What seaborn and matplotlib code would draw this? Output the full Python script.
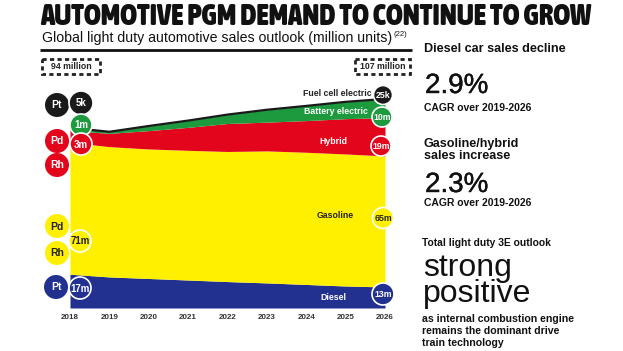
import numpy as np
import matplotlib.pyplot as plt
import matplotlib.patheffects as pe
import seaborn as sns
from matplotlib import font_manager
from matplotlib.patches import Circle, Rectangle

# Vendas globais de veículos leves (milhões de unidades)
years = [2018, 2019, 2020, 2021, 2022, 2023, 2024, 2025, 2026]
diesel = [17.5, 16.1, 15.3, 14.5, 13.7, 13.0, 12.2, 11.4, 10.9]
gasoline = [68.4, 67.5, 67.1, 67.2, 67.4, 68.4, 68.5, 68.4, 67.9]
hybrid = [6.0, 6.9, 9.5, 11.9, 14.5, 14.9, 16.4, 18.3, 19.9]
battery = [1.5, 0.8, 2.4, 3.5, 4.6, 6.4, 7.6, 8.7, 9.6]
fuel_cell = [0.005, 0.006, 0.008, 0.010, 0.012, 0.015, 0.018, 0.021, 0.025]

series_names = ['Diesel', 'Gasoline', 'Hybrid', 'Battery electric']
colors = ['#22318f', '#fff000', '#e3051b', '#1c9a3d']
fcev_color = '#1a1a1a'

start_labels = ['17m', '71m', '3m', '1m', '5k']
end_labels = ['13m', '65m', '19m', '10m', '25k']
total_labels = ['94 million', '107 million']

sns.set_theme(style="white")
plt.rcParams['font.family'] = ['Liberation Sans', 'DejaVu Sans']


def font_weight(f):
    try:
        return int(f.weight)
    except (TypeError, ValueError):
        return 700 if 'bold' in str(f.weight) else 400


def find_condensed_bold():
    """Procura uma fonte condensada em negrito instalada (se existir)"""
    best = None
    for f in font_manager.fontManager.ttflist:
        name = f.name.lower()
        cond = ('narrow' in name or 'condensed' in name or
                str(f.stretch) in ('condensed', 'semi-condensed', 'extra-condensed', '75', '62', '87'))
        w = font_weight(f)
        if cond and w >= 600 and f.style == 'normal':
            if best is None or w > best[0]:
                best = (w, f.fname)
    return best[1] if best else None


W, H = 623, 351
fig = plt.figure(figsize=(W / 100, H / 100), dpi=100)

# eixo do gráfico de áreas (em pixels: x 70-385, base em y=308)
px_per_m = 1.93
ax = fig.add_axes([70 / W, (H - 308) / H, (385 - 70) / W, (308 - 88) / H])
ax.stackplot(years, diesel, gasoline, hybrid, battery, colors=colors, lw=0)
top = np.array(diesel) + np.array(gasoline) + np.array(hybrid) + np.array(battery) + np.array(fuel_cell)
sns.lineplot(x=years, y=top, color=fcev_color, lw=1.6, ax=ax)
ax.set_xlim(2018, 2026)
ax.set_ylim(0, (308 - 88) / px_per_m)
ax.set_xticks(years)
ax.set_xticklabels([str(y) for y in years], fontsize=5.8, fontweight='bold', color='#333333')
ax.tick_params(axis='x', length=0, pad=4)
ax.set_yticks([])
sns.despine(ax=ax, left=True, bottom=True)
ax.patch.set_alpha(0)

# camada de anotações em coordenadas de pixel
ov = fig.add_axes([0, 0, 1, 1], zorder=5)
ov.set_xlim(0, W)
ov.set_ylim(H, 0)
ov.axis('off')
ov.patch.set_alpha(0)

cond_file = find_condensed_bold()
if cond_file:
    title_fp = font_manager.FontProperties(fname=cond_file, size=18.5)
else:
    title_fp = font_manager.FontProperties(family='Liberation Sans', weight='bold', size=18.5)
title = ov.text(40, 25, 'AUTOMOTIVE PGM DEMAND TO CONTINUE TO GROW', fontproperties=title_fp,
                va='baseline', ha='left', color='#111111')
renderer = fig.canvas.get_renderer()
tw = title.get_window_extent(renderer).width
title.set_fontsize(18.5 * 550 / tw)

sub = ov.text(42, 42, 'Global light duty automotive sales outlook (million units)', fontsize=10.2,
              va='baseline', ha='left', color='#111111')
bb = sub.get_window_extent(renderer)
ov.text(bb.x1 + 1, 36, '(22)', fontsize=5.5, va='baseline', ha='left', color='#111111')
ov.plot([40, 412], [50, 50], color='#111111', lw=2, solid_capstyle='butt')

# caixas tracejadas com os totais
for (x0, x1), lab in zip([(42, 100), (355, 410)], total_labels):
    ov.add_patch(Rectangle((x0, 59), x1 - x0, 15, fill=False, ec='#222222', lw=2,
                           ls=(0, (1.5, 1.2))))
    ov.text((x0 + x1) / 2, 66.5, lab, fontsize=6.3, fontweight='bold', ha='center', va='center',
            color='#222222')


def badge(x, y, d, fc, label, tc='white', edge=True, fs=6.5):
    ov.add_patch(Circle((x, y), d / 2, fc=fc, ec='white' if edge else fc, lw=1.2 if edge else 0))
    ov.text(x, y + 0.5, label, fontsize=fs, fontweight='bold', color=tc, ha='center', va='center')


black, blue, yellow, red, green = fcev_color, colors[0], colors[1], colors[2], colors[3]
dark = '#222222'

# metais à esquerda
badge(57, 105, 24, black, 'Pt', fs=7.5, edge=False)
badge(57, 141, 24, red, 'Pd', fs=7.5, edge=False)
badge(57, 165, 24, red, 'Rh', fs=7.5, edge=False)
badge(57, 226, 24, yellow, 'Pd', tc=dark, fs=7.5, edge=False)
badge(57, 253, 24, yellow, 'Rh', tc=dark, fs=7.5, edge=False)
badge(56, 287, 24, blue, 'Pt', fs=7.5, edge=False)

# valores de 2018
badge(81, 103, 24, black, start_labels[4], fs=7)
badge(81, 125, 22, green, start_labels[3], fs=7)
badge(81, 144, 22, red, start_labels[2], fs=7)
badge(80, 241, 22, yellow, start_labels[1], tc=dark, fs=7)
badge(80, 288, 22, blue, start_labels[0], fs=7)

# valores de 2026
badge(383, 95, 19, black, end_labels[4], fs=6.3)
badge(382, 117, 20, green, end_labels[3], fs=6.3)
badge(381, 146, 20, red, end_labels[2], fs=6.3)
badge(383, 218, 21, yellow, end_labels[1], tc=dark, fs=6.3)
badge(383, 294, 22, blue, end_labels[0], fs=6.3)

# rótulos das séries
ov.text(372, 93, 'Fuel cell electric', fontsize=6.3, fontweight='bold', ha='right', va='center', color=dark)
ov.text(368, 112, series_names[3], fontsize=6.3, fontweight='bold', ha='right', va='center', color='white')
ov.text(333, 141, series_names[2], fontsize=6.3, fontweight='bold', ha='center', va='center', color='white')
ov.text(335, 216, series_names[1], fontsize=6.3, fontweight='bold', ha='center', va='center', color=dark)
ov.text(333, 298, series_names[0], fontsize=6.3, fontweight='bold', ha='center', va='center', color='white')

# painel de texto à direita
ink = '#111111'
heavy = [pe.withStroke(linewidth=0.3, foreground=ink)]
tx = 424
ov.text(tx, 49, 'Diesel car sales decline', fontsize=9.1, fontweight='bold', va='center', color=ink)
ov.text(tx + 1, 93, '2.9%', fontsize=20, va='baseline', color=ink, path_effects=heavy)
ov.text(tx, 108, 'CAGR over 2019-2026', fontsize=7.5, fontweight='bold', va='center', color=ink)
ov.text(tx, 150, 'Gasoline/hybrid\nsales increase', fontsize=9.1, fontweight='bold', va='center',
        linespacing=1.1, color=ink)
ov.text(tx + 1, 192, '2.3%', fontsize=20, va='baseline', color=ink, path_effects=heavy)
ov.text(tx, 203, 'CAGR over 2019-2026', fontsize=7.5, fontweight='bold', va='center', color=ink)
ov.text(tx - 2, 243, 'Total light duty 3E outlook', fontsize=7.4, fontweight='bold', va='center', color=ink)
ov.text(tx - 1, 302, 'strong\npositive', fontsize=23, va='baseline', linespacing=0.82, color=ink)
ov.text(tx - 2, 331, 'as internal combustion engine\nremains the dominant drive\ntrain technology',
        fontsize=7.6, fontweight='bold', va='center', linespacing=1.2, color=ink)

fig.savefig('out.png', dpi=100)
